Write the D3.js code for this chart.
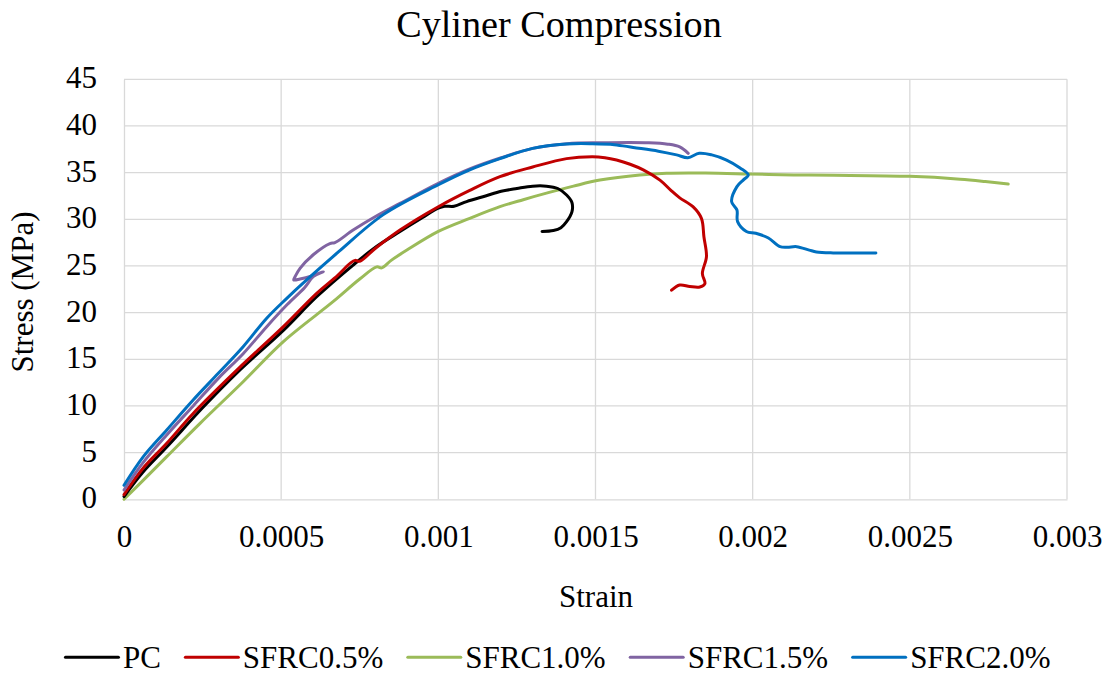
<!DOCTYPE html>
<html>
<head>
<meta charset="utf-8">
<script src="https://cdn.jsdelivr.net/npm/d3@7"></script>
</head>
<body style="margin:0">
<svg id="chart" width="1110" height="673"></svg>
<script>
// ---------- data (strain, stress MPa) ----------
const seriesNames = ["PC", "SFRC0.5%", "SFRC1.0%", "SFRC1.5%", "SFRC2.0%"];
const seriesColors = ["#000000", "#C00000", "#9BBB59", "#8064A2", "#0070C0"];

const pcData = [
  [0,0.3],[0.00006,2.9],[0.000136,5.6],[0.00025,9.8],[0.000364,13.7],[0.000507,18.1],
  [0.000613,21.7],[0.000729,25.1],[0.0008,27.0],[0.000878,28.7],[0.00095,30.2],[0.001,31.2],
  [0.00102,31.4],[0.00105,31.4],[0.00109,31.9],[0.00115,32.5],[0.0012,33.0],[0.00125,33.3],
  [0.0013,33.55],[0.001344,33.55],[0.00138,33.3],[0.001408,32.6],[0.001425,31.8],[0.001425,30.8],
  [0.001408,29.75],[0.00139,29.1],[0.001366,28.8],[0.00133,28.7]
];
const sfrc05Data = [
  [0,0.5],[0.00006,3.3],[0.000136,6.0],[0.00022,9.2],[0.000364,14.0],[0.000507,18.5],
  [0.000613,22.07],[0.00068,24.0],[0.00072,25.3],[0.000735,25.6],[0.00075,25.5],[0.00080,26.9],
  [0.000878,28.85],[0.001,31.35],[0.0011,33.1],[0.001196,34.57],[0.0013,35.6],[0.001408,36.5],
  [0.00149,36.7],[0.00153,36.6],[0.001567,36.35],[0.00161,35.9],[0.001652,35.3],[0.001705,34.2],
  [0.00174,33.1],[0.001768,32.3],[0.00181,31.35],[0.001837,30.1],[0.001845,28.1],[0.001853,26.0],
  [0.00184,24.2],[0.001848,23.1],[0.001832,22.75],[0.0018,22.8],[0.001768,22.96],[0.001742,22.4]
];
const sfrc10Data = [
  [0,0],[0.00006,2.0],[0.000136,4.57],[0.000242,8.14],[0.000379,12.6],[0.000507,16.9],
  [0.000666,21.2],[0.00075,23.6],[0.000804,24.9],[0.00082,24.8],[0.00085,25.6],[0.0009,26.7],
  [0.001,28.7],[0.0011,30.1],[0.001196,31.35],[0.00127,32.1],[0.001344,32.8],[0.00143,33.55],
  [0.001514,34.2],[0.001641,34.75],[0.001726,34.93],[0.00185,34.95],[0.001986,34.86],
  [0.00213,34.75],[0.00226,34.72],[0.0025,34.6],[0.00266,34.3],[0.00274,34.05],[0.002813,33.78]
];
const sfrc15Data = [
  [0,1.0],[0.00006,3.9],[0.000136,6.9],[0.00022,10.0],[0.0003,12.96],[0.000379,15.6],
  [0.000454,18.5],[0.00052,20.9],[0.000575,22.7],[0.000602,23.85],[0.000634,24.4],
  [0.000595,23.9],[0.00056,23.6],[0.00054,23.5],[0.000545,23.9],[0.00056,24.75],[0.000602,26.2],
  [0.000655,27.4],[0.000671,27.5],[0.000729,28.85],[0.0008,30.3],[0.000878,31.7],[0.001,33.86],
  [0.0011,35.4],[0.0012,36.6],[0.0013,37.6],[0.00141,38.1],[0.001514,38.2],[0.00167,38.2],
  [0.00173,38.05],[0.001768,37.75],[0.001795,37.07]
];
const sfrc20Data = [
  [0,1.5],[0.0000615,4.57],[0.000136,7.43],[0.00022,10.64],[0.0003,13.5],[0.000379,16.35],
  [0.000454,19.4],[0.000517,21.5],[0.000581,23.5],[0.000682,26.5],[0.000825,30.5],[0.001,33.7],
  [0.0011,35.3],[0.001196,36.5],[0.0013,37.6],[0.001408,38.07],[0.00149,38.1],[0.00156,38.0],
  [0.00162,37.7],[0.0017,37.3],[0.001758,36.9],[0.001794,36.6],[0.00183,37.07],[0.00187,36.9],
  [0.001917,36.35],[0.00196,35.5],[0.001986,34.75],[0.00197,34.2],[0.00195,33.5],[0.001933,31.9],
  [0.00195,31.0],[0.001952,29.75],[0.00198,28.7],[0.00201,28.5],[0.00205,28.0],[0.002087,27.07],
  [0.00211,27.0],[0.00214,27.07],[0.00218,26.7],[0.002203,26.5],[0.002256,26.4],[0.002392,26.4]
];
const seriesData = [pcData, sfrc05Data, sfrc10Data, sfrc15Data, sfrc20Data];

const xTickValues = [0, 0.0005, 0.001, 0.0015, 0.002, 0.0025, 0.003];
const xTickLabels = ["0", "0.0005", "0.001", "0.0015", "0.002", "0.0025", "0.003"];
const yTickValues = [0, 5, 10, 15, 20, 25, 30, 35, 40, 45];

const titleText = "Cyliner Compression";
const xTitle = "Strain";
const yTitle = "Stress (MPa)";

const FONT = '"Liberation Serif", serif';

// ---------- layout ----------
const svg = d3.select("#chart");
const plot = { left: 124, right: 1067, top: 79.3, bottom: 499.3 };

const x = d3.scaleLinear().domain([0, 0.003]).range([plot.left, plot.right]);
const y = d3.scaleLinear().domain([0, 45]).range([plot.bottom, plot.top]);

// gridlines
const grid = svg.append("g");
grid.selectAll("line.h").data(yTickValues.filter(v => v > 0)).join("line")
  .attr("x1", plot.left).attr("x2", plot.right)
  .attr("y1", d => y(d)).attr("y2", d => y(d))
  .attr("stroke", "#D9D9D9").attr("stroke-width", 1.3);
grid.selectAll("line.v").data(xTickValues.filter(v => v > 0)).join("line")
  .attr("y1", plot.top).attr("y2", plot.bottom)
  .attr("x1", d => x(d)).attr("x2", d => x(d))
  .attr("stroke", "#D9D9D9").attr("stroke-width", 1.3);

// axes
const xAxis = d3.axisBottom(x).tickValues(xTickValues)
  .tickFormat((d, i) => xTickLabels[i]).tickSize(0).tickPadding(0);
const gx = svg.append("g").attr("transform", `translate(0,${plot.bottom})`).call(xAxis);
gx.attr("font-family", FONT).attr("font-size", 31);
gx.select(".domain").attr("stroke", "#D9D9D9").attr("stroke-width", 1.3);
gx.selectAll("text").attr("y", 48).attr("dy", 0).attr("fill", "#000");

const yAxis = d3.axisLeft(y).tickValues(yTickValues).tickSize(0).tickPadding(0);
const gy = svg.append("g").attr("transform", `translate(${plot.left},0)`).call(yAxis);
gy.attr("font-family", FONT).attr("font-size", 31);
gy.select(".domain").attr("stroke", "#D9D9D9").attr("stroke-width", 1.3);
gy.selectAll("text").attr("x", -27).attr("dy", 8.5).attr("fill", "#000");

// series lines
const line = d3.line().x(d => x(d[0])).y(d => y(d[1])).curve(d3.curveCatmullRom.alpha(0.5));
const order = [2, 0, 1, 3, 4];
svg.append("g").selectAll("path").data(order).join("path")
  .attr("d", i => line(seriesData[i]))
  .attr("fill", "none")
  .attr("stroke", i => seriesColors[i])
  .attr("stroke-width", 3)
  .attr("stroke-linejoin", "round")
  .attr("stroke-linecap", "round");

// title
svg.append("text").attr("x", 559).attr("y", 37).attr("text-anchor", "middle")
  .attr("font-family", FONT).attr("font-size", 38.2).text(titleText);

// axis titles
svg.append("text").attr("x", 596).attr("y", 607).attr("text-anchor", "middle")
  .attr("font-family", FONT).attr("font-size", 31).text(xTitle);
svg.append("text").attr("transform", "translate(33,292) rotate(-90)")
  .attr("text-anchor", "middle")
  .attr("font-family", FONT).attr("font-size", 31).text(yTitle);

// legend
const legend = svg.append("g");
const lineLen = 53, lineGap = 4.5, itemGap = 24.5, legY = 657.3, legBase = 667.5;
const items = seriesNames.map((name, i) => {
  const g = legend.append("g");
  g.append("line").attr("x1", 0).attr("x2", lineLen).attr("y1", legY).attr("y2", legY)
    .attr("stroke", seriesColors[i]).attr("stroke-width", 3).attr("stroke-linecap", "round");
  const t = g.append("text").attr("x", lineLen + lineGap).attr("y", legBase)
    .attr("font-family", FONT).attr("font-size", 31).text(name);
  return { g, w: lineLen + lineGap + t.node().getComputedTextLength() };
});
const totalW = d3.sum(items, d => d.w) + itemGap * (items.length - 1);
let cx = 558 - totalW / 2;
items.forEach(it => { it.g.attr("transform", `translate(${cx},0)`); cx += it.w + itemGap; });
</script>
</body>
</html>
